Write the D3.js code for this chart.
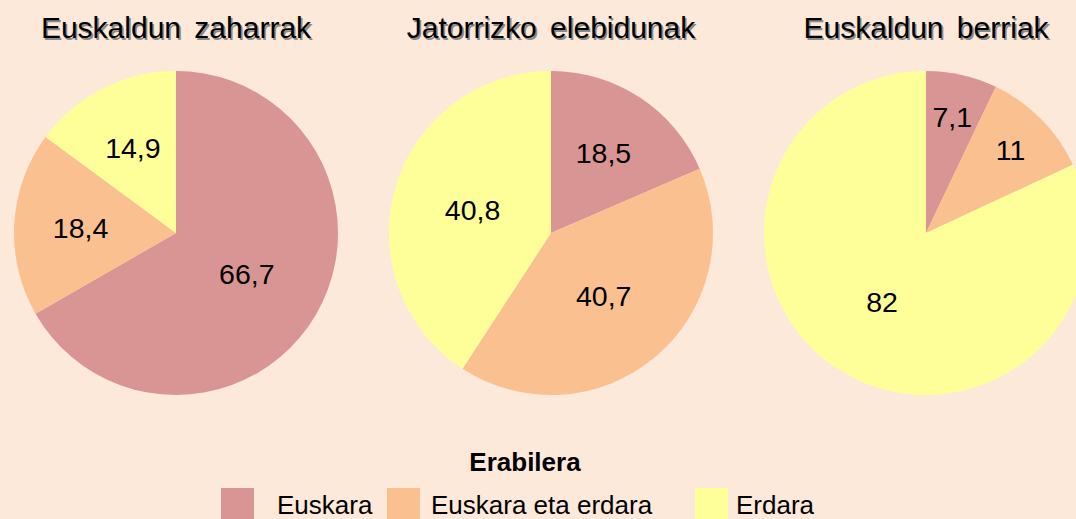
<!DOCTYPE html>
<html>
<head>
<meta charset="utf-8">
<script src="https://cdn.jsdelivr.net/npm/d3@7"></script>
<style>
  html, body { margin: 0; padding: 0; background: #fde9d9; }
  svg { display: block; font-family: "Liberation Sans", Arial, sans-serif; }
</style>
</head>
<body>
<svg id="chart" width="1076" height="519"></svg>
<script>
// Language use (Erabilera) by speaker profile, percentages
const groups = ["Euskaldun zaharrak", "Jatorrizko elebidunak", "Euskaldun berriak"];
const categories = ["Euskara", "Euskara eta erdara", "Erdara"];
const euskara = [66.7, 18.5, 7.1];
const bietan = [18.4, 40.7, 11];
const erdara = [14.9, 40.8, 82];
const labels = [
  ["66,7", "18,4", "14,9"],
  ["18,5", "40,7", "40,8"],
  ["7,1", "11", "82"]
];
const legendTitle = "Erabilera";

const colors = ["#d99594", "#fac090", "#ffff99"];

const width = 1076, height = 519;
const svg = d3.select("#chart");

svg.append("rect").attr("width", width).attr("height", height).attr("fill", "#fde9d9");

const radius = 162;
const cy = 233;
const xCenter = d3.scalePoint().domain(groups).range([176, 926]);
const color = d3.scaleOrdinal().domain(categories).range(colors);

const pie = d3.pie().sort(null).value(d => d.value);
const arc = d3.arc().innerRadius(0).outerRadius(radius);

// label distance from centre, as a share of the radius, by slice size
function labelShare(frac) {
  if (frac < 0.12) return 0.735;
  if (frac < 0.3) return 0.59;
  return 0.505;
}

groups.forEach((g, gi) => {
  const values = [euskara[gi], bietan[gi], erdara[gi]];
  const rows = categories.map((c, ci) => ({ cat: c, value: values[ci], label: labels[gi][ci] }));
  const total = d3.sum(values);
  const arcs = pie(rows);

  const cx = xCenter(g);
  const grp = svg.append("g").attr("transform", `translate(${cx},${cy})`);

  grp.selectAll("path")
    .data(arcs)
    .join("path")
    .attr("d", arc)
    .attr("fill", d => color(d.data.cat));

  grp.selectAll("text.val")
    .data(arcs)
    .join("text")
    .attr("class", "val")
    .attr("transform", d => {
      const frac = d.data.value / total;
      const a = (d.startAngle + d.endAngle) / 2;
      const rr = radius * labelShare(frac);
      return `translate(${Math.sin(a) * rr},${-Math.cos(a) * rr})`;
    })
    .attr("text-anchor", "middle")
    .attr("dy", "0.36em")
    .attr("font-size", 28.5)
    .attr("fill", "#000")
    .text(d => d.data.label);

  // title with a soft grey drop shadow
  const title = svg.append("g").attr("transform", `translate(${cx},38)`);
  title.append("text")
    .attr("x", 1.6).attr("y", 1.6)
    .attr("text-anchor", "middle")
    .attr("font-size", 30)
    .attr("word-spacing", 5)
    .attr("fill", "#8a8a8a")
    .text(g);
  title.append("text")
    .attr("text-anchor", "middle")
    .attr("font-size", 30)
    .attr("word-spacing", 5)
    .attr("fill", "#000")
    .text(g);
});

// legend
svg.append("text")
  .attr("x", 525).attr("y", 471)
  .attr("text-anchor", "middle")
  .attr("font-size", 26)
  .attr("font-weight", "bold")
  .attr("fill", "#000")
  .text(legendTitle);

const legendSlots = [
  { swatch: 221, text: 277 },
  { swatch: 387, text: 431 },
  { swatch: 695, text: 736 }
];

const legend = svg.append("g");
const items = legend.selectAll("g.item")
  .data(categories)
  .join("g")
  .attr("class", "item");

items.append("rect")
  .attr("x", (d, i) => legendSlots[i].swatch)
  .attr("y", 488)
  .attr("width", 33)
  .attr("height", 33)
  .attr("fill", d => color(d));

items.append("text")
  .attr("x", (d, i) => legendSlots[i].text)
  .attr("y", 514)
  .attr("font-size", 26)
  .attr("fill", "#000")
  .text(d => d);
</script>
</body>
</html>
